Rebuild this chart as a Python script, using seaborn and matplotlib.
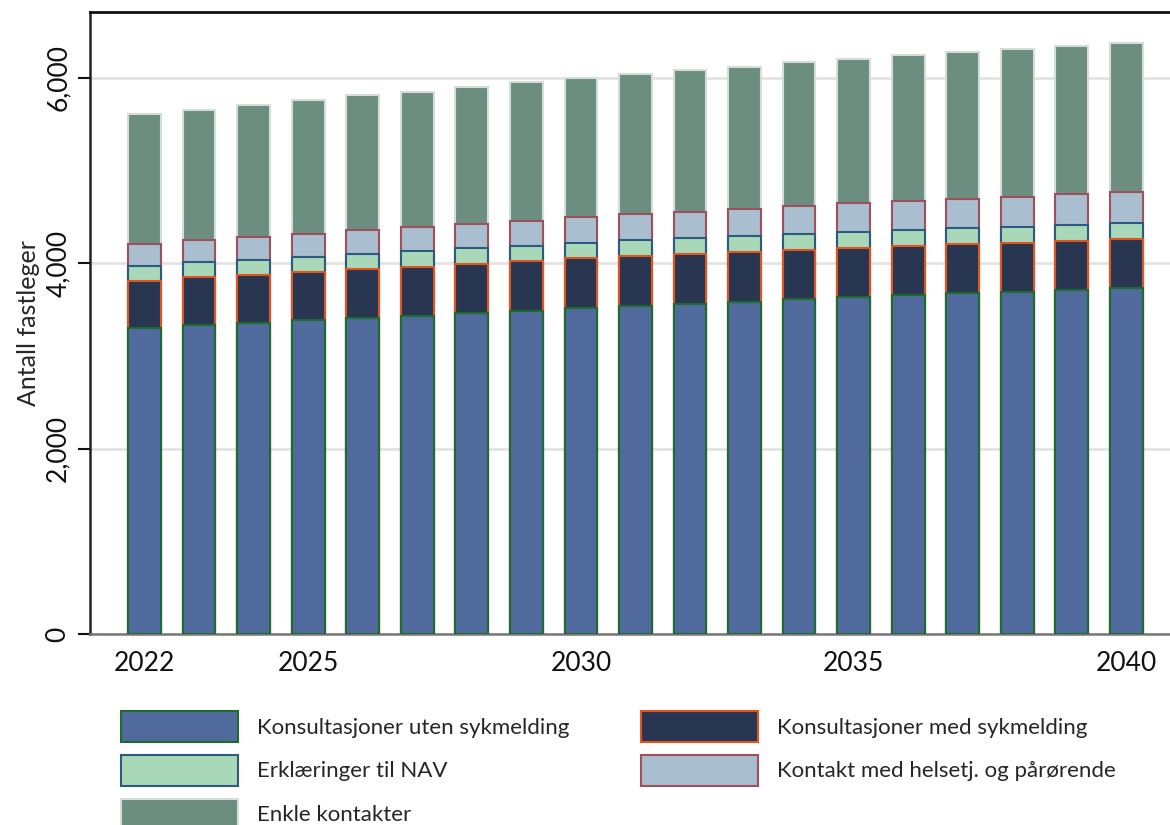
import numpy as np
import matplotlib
matplotlib.use("Agg")
import matplotlib.pyplot as plt
from matplotlib.patches import Patch
from matplotlib.ticker import FuncFormatter
import seaborn as sns

years = list(range(2022, 2041))

# antall fastleger per kategori (lest av figuren)
uten_sykmelding = [3302, 3331, 3356, 3385, 3410, 3435, 3464, 3488, 3517, 3542,
                   3564, 3586, 3611, 3633, 3655, 3676, 3694, 3712, 3730]
med_sykmelding = [510, 516, 522, 522, 523, 525, 528, 535, 537, 537,
                  540, 539, 534, 532, 532, 529, 528, 529, 529]
erklaeringer_nav = [162, 162, 156, 162, 170, 172, 170, 165, 165, 169,
                    165, 169, 172, 175, 172, 172, 173, 175, 173]
kontakt_helsetj = [234, 239, 246, 250, 251, 262, 265, 268, 277, 280,
                   288, 292, 302, 306, 313, 317, 324, 328, 334]
enkle_kontakter = [1400, 1409, 1428, 1439, 1456, 1458, 1475, 1497, 1503, 1514,
                   1525, 1536, 1551, 1557, 1572, 1582, 1589, 1601, 1608]

labels = ["Konsultasjoner uten sykmelding", "Konsultasjoner med sykmelding",
          "Erklæringer til NAV", "Kontakt med helsetj. og pårørende",
          "Enkle kontakter"]
fills = ["#516a9e", "#283652", "#a8d8b8", "#a9bfd0", "#6b8e80"]
edges = ["#1e6b2e", "#e0541e", "#2d5a7d", "#a0505a", "#d5ddd9"]

series = [uten_sykmelding, med_sykmelding, erklaeringer_nav, kontakt_helsetj, enkle_kontakter]
cum = np.cumsum(np.array(series), axis=0)

sns.set_style("white")
plt.rcParams['font.family'] = ['Lato', 'DejaVu Sans']

fig = plt.figure(figsize=(11.7, 8.25), dpi=100)
ax = fig.add_axes([90/1170, 191/825, 1 - 90/1170, (634-12)/825])

# tegn stablede søyler ovenfra og ned
for i in range(4, -1, -1):
    sns.barplot(x=years, y=cum[i], native_scale=True, color=fills[i],
                edgecolor=edges[i], linewidth=1.5, width=0.6, saturation=1,
                errorbar=None, ax=ax, zorder=3)

ax.set_xlim(2021, 2040.8)
ax.set_ylim(0, 6710)
ax.set_xticks([2022, 2025, 2030, 2035, 2040])
ax.set_xticklabels(["2022", "2025", "2030", "2035", "2040"])
ax.set_yticks([0, 2000, 4000, 6000])
ax.yaxis.set_major_formatter(FuncFormatter(lambda v, p: f"{int(v):,}"))
ax.yaxis.grid(True, color="#e3e3e3", linewidth=2, zorder=0)
ax.set_axisbelow(True)

ax.tick_params(axis="x", length=0, pad=12, labelsize=19, colors="#111111")
ax.tick_params(axis="y", length=9, width=1.5, pad=5, labelsize=19,
               colors="#111111", left=True)
plt.setp(ax.get_yticklabels(), rotation=90, va="center")
ax.set_ylabel("Antall fastleger", fontsize=18, labelpad=4)
ax.set_xlabel("")

ax.spines["right"].set_visible(False)
ax.spines["left"].set_color("#222222")
ax.spines["left"].set_linewidth(1.8)
ax.spines["top"].set_color("#111111")
ax.spines["top"].set_linewidth(2)
ax.spines["bottom"].set_color("#777777")
ax.spines["bottom"].set_linewidth(1.8)

handles = [Patch(facecolor=fills[i], edgecolor=edges[i], linewidth=1.5, label=labels[i])
           for i in [0, 2, 4, 1, 3]]
fig.legend(handles=handles, loc="upper left", bbox_to_anchor=(121/1170, 1 - 711/825),
           ncol=2, frameon=False, fontsize=16, handlelength=5.27, handleheight=1.75,
           handletextpad=0.86, columnspacing=3.2, labelspacing=0.59, borderpad=0,
           borderaxespad=0)

fig.savefig("out.png", dpi=100)
